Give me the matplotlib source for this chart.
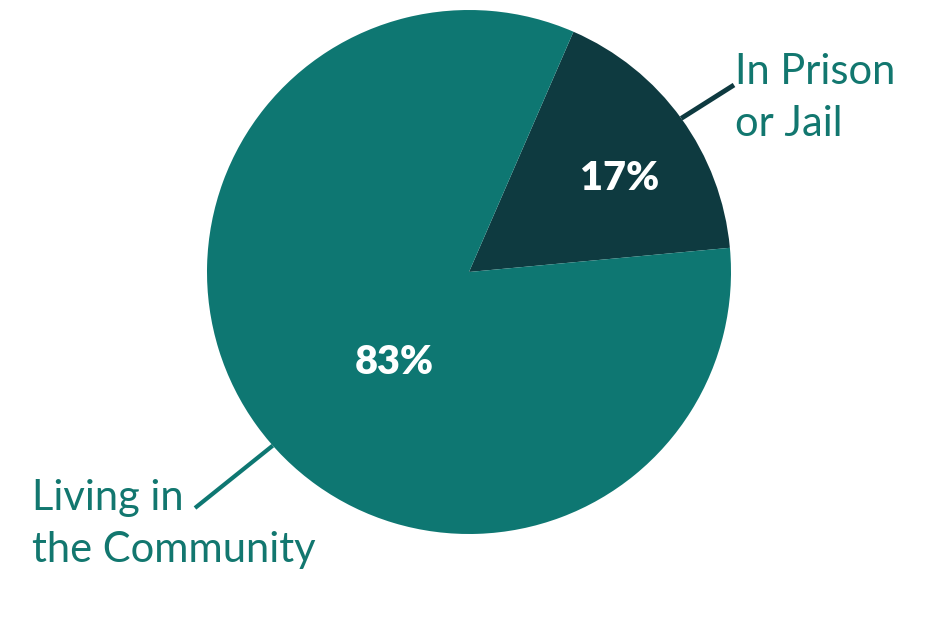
import numpy as np
import matplotlib.pyplot as plt

# ── Data ──────────────────────────────────────────────────────
labels = ["In Prison\nor Jail", "Living in\nthe Community"]
shares = [17, 83]
pct_text = ["17%", "83%"]

colors = ["#0E3A40", "#0E7772"]
text_teal = "#12776F"

plt.rcParams["font.family"] = ["Lato", "DejaVu Sans"]

fig = plt.figure(figsize=(9.5, 6.22), dpi=100)
ax = fig.add_axes([0, 0, 1, 1])

cx, cy, r = 469, 350, 262
wedges, _ = ax.pie(
    shares,
    colors=colors,
    startangle=66.5,
    counterclock=False,
    center=(cx, cy),
    radius=r,
    frame=True,
    wedgeprops=dict(linewidth=0),
)
ax.set_xlim(0, 950)
ax.set_ylim(0, 622)
ax.set_aspect("equal")
ax.axis("off")

# ── Percent labels inside slices ─────────────────────────────
ax.text(620, 622 - 178, pct_text[0], color="white", fontsize=28.5,
        fontweight="heavy", ha="center", va="center")
ax.text(394, 622 - 362, pct_text[1], color="white", fontsize=28.5,
        fontweight="heavy", ha="center", va="center")

# ── Outside labels with leader lines ─────────────────────────
def edge_point(w, ang=None):
    a = np.deg2rad(ang if ang is not None else (w.theta1 + w.theta2) / 2)
    return cx + r * np.cos(a), cy + r * np.sin(a)

x0, y0 = edge_point(wedges[0])
ax.plot([x0, 734], [y0, 622 - 85], color=colors[0], lw=3.5, solid_capstyle="butt")
for i, line in enumerate(labels[0].split("\n")):
    ax.text(735, 622 - 84 - 52 * i, line, color=text_teal, fontsize=30,
            ha="left", va="baseline")

x1, y1 = edge_point(wedges[1], 221.5)
ax.plot([x1, 195], [y1, 622 - 508], color=colors[1], lw=3, solid_capstyle="butt")
for i, line in enumerate(labels[1].split("\n")):
    ax.text(32, 622 - 510 - 52 * i, line, color=text_teal, fontsize=30,
            ha="left", va="baseline")

fig.savefig("out.png", dpi=100)
